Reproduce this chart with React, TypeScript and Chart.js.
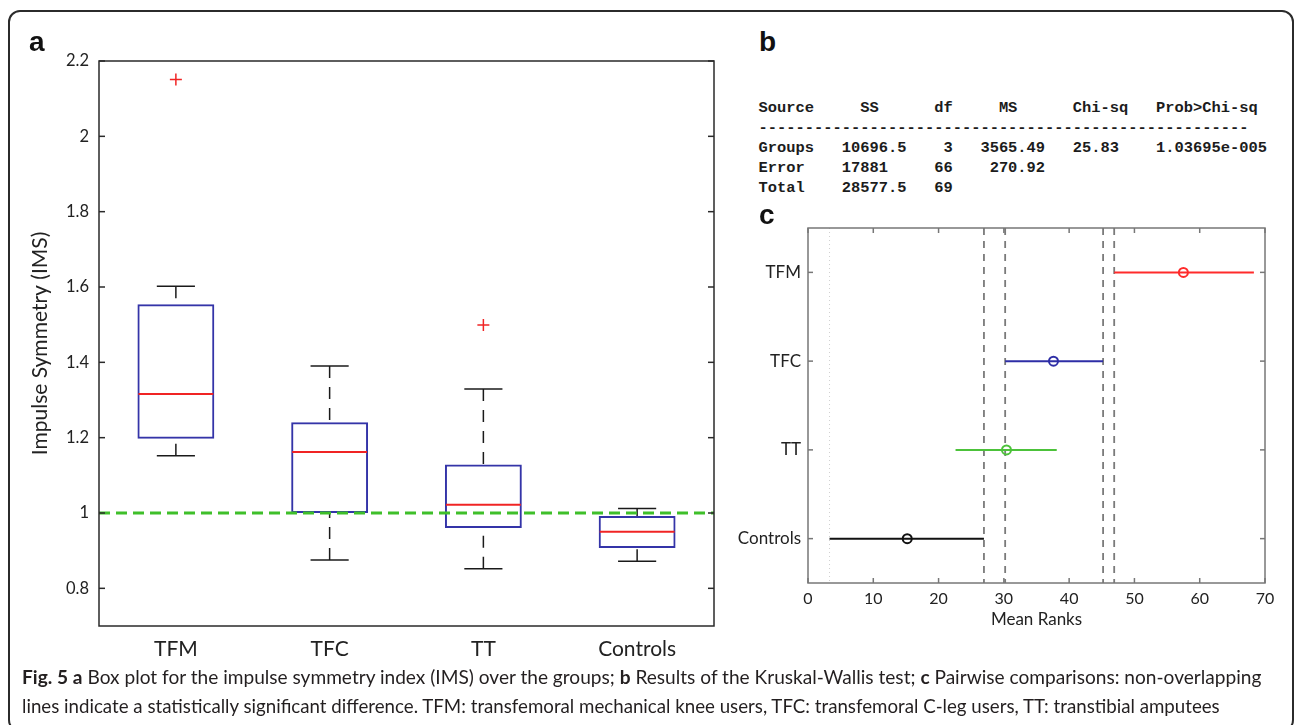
import React, { useEffect, useRef } from 'react';
import { Chart, registerables } from 'chart.js';

Chart.register(...registerables);

// ---------- Panel a: box plot of the impulse symmetry index ----------
const groups = ['TFM', 'TFC', 'TT', 'Controls'];
const lowerWhisker = [1.152, 0.875, 0.852, 0.872];
const lowerQuartile = [1.197, 1.0, 0.96, 0.907];
const medianValue = [1.316, 1.162, 1.022, 0.95];
const upperQuartile = [1.554, 1.241, 1.129, 0.992];
const upperWhisker = [1.602, 1.39, 1.329, 1.012];
const outlierGroups = ['TFM', 'TT'];
const outlierValues = [2.151, 1.499];
const symmetryLevel = 1.0;
const imsTicks = [0.8, 1.0, 1.2, 1.4, 1.6, 1.8, 2.0, 2.2];

// ---------- Panel b: Kruskal-Wallis table ----------
const tableColumns = ['Source', 'SS', 'df', 'MS', 'Chi-sq', 'Prob>Chi-sq'];
const tableSources = ['Groups', 'Error', 'Total'];
const tableSS = ['10696.5', '17881', '28577.5'];
const tableDf = ['3', '66', '69'];
const tableMS = ['3565.49', '270.92', ''];
const tableChiSq = ['25.83', '', ''];
const tableProb = ['1.03695e-005', '', ''];

// ---------- Panel c: pairwise comparisons (mean ranks) ----------
const rankGroups = ['TFM', 'TFC', 'TT', 'Controls'];
const rankMean = [57.5, 37.6, 30.4, 15.2];
const rankLower = [46.9, 30.2, 22.6, 3.3];
const rankUpper = [68.3, 45.2, 38.1, 26.95];
const rankColors = ['#ff2b2b', '#2e2ea6', '#4cc23a', '#111111'];
const dashedMarks = [26.95, 30.2, 45.2, 46.9];
const dottedMark = 3.3;
const rankTicks = [0, 10, 20, 30, 40, 50, 60, 70];

const BOX_BLUE = '#3434a8';
const RED = '#f02424';
const TEXT = '#222222';

const tableLines: string[] = [
  tableColumns[0].padEnd(11) + tableColumns[1].padEnd(8) + tableColumns[2].padEnd(7) +
    tableColumns[3].padEnd(8) + tableColumns[4].padEnd(9) + tableColumns[5],
  '-'.repeat(53),
  ...tableSources.map((s, i) =>
    (s.padEnd(9) + tableSS[i].padEnd(8) + tableDf[i].padStart(4) + tableMS[i].padStart(10) +
      '   ' + tableChiSq[i].padEnd(9) + tableProb[i]).replace(/\s+$/, '')
  ),
];

function strokeLine(ctx: CanvasRenderingContext2D, x1: number, y1: number, x2: number, y2: number) {
  ctx.beginPath();
  ctx.moveTo(x1, y1);
  ctx.lineTo(x2, y2);
  ctx.stroke();
}

const boxPlugin = {
  id: 'boxExtras',
  afterDatasetsDraw(chart: any) {
    const { ctx, chartArea, scales } = chart;
    const x = scales.x;
    const y = scales.y;
    const step = x.getPixelForValue(1) - x.getPixelForValue(0);
    ctx.save();
    groups.forEach((_, i) => {
      const cx = x.getPixelForValue(i);
      const capHalf = step * 0.124;
      const boxHalf = step * 0.25;
      ctx.strokeStyle = '#1a1a1a';
      ctx.lineWidth = 1.5;
      ctx.setLineDash([12, 9]);
      strokeLine(ctx, cx, y.getPixelForValue(upperWhisker[i]), cx, y.getPixelForValue(upperQuartile[i]));
      strokeLine(ctx, cx, y.getPixelForValue(lowerWhisker[i]), cx, y.getPixelForValue(lowerQuartile[i]));
      ctx.setLineDash([]);
      const yh = y.getPixelForValue(upperWhisker[i]);
      const yl = y.getPixelForValue(lowerWhisker[i]);
      strokeLine(ctx, cx - capHalf, yh, cx + capHalf, yh);
      strokeLine(ctx, cx - capHalf, yl, cx + capHalf, yl);
      ctx.strokeStyle = RED;
      ctx.lineWidth = 2;
      const ym = y.getPixelForValue(medianValue[i]);
      strokeLine(ctx, cx - boxHalf + 1, ym, cx + boxHalf - 1, ym);
    });
    // reference line at perfect symmetry
    const yr = y.getPixelForValue(symmetryLevel);
    ctx.strokeStyle = '#3fbf2a';
    ctx.lineWidth = 3;
    ctx.setLineDash([11, 6]);
    strokeLine(ctx, chartArea.left, yr, chartArea.right, yr);
    ctx.restore();
  },
  afterDraw(chart: any) {
    const { ctx, chartArea, scales } = chart;
    const y = scales.y;
    ctx.save();
    ctx.strokeStyle = '#2a2a2a';
    ctx.lineWidth = 1.5;
    ctx.strokeRect(chartArea.left, chartArea.top, chartArea.right - chartArea.left, chartArea.bottom - chartArea.top);
    imsTicks.forEach((v) => {
      const py = y.getPixelForValue(v);
      strokeLine(ctx, chartArea.left, py, chartArea.left + 6, py);
      strokeLine(ctx, chartArea.right - 6, py, chartArea.right, py);
    });
    ctx.restore();
  },
};

const rankPlugin = {
  id: 'rankExtras',
  beforeDatasetsDraw(chart: any) {
    const { ctx, chartArea, scales } = chart;
    const x = scales.x;
    ctx.save();
    ctx.strokeStyle = '#7a7a7a';
    ctx.lineWidth = 1.8;
    ctx.setLineDash([7, 6]);
    dashedMarks.forEach((v) => {
      const px = x.getPixelForValue(v);
      strokeLine(ctx, px, chartArea.top, px, chartArea.bottom);
    });
    ctx.strokeStyle = '#d0d0d0';
    ctx.lineWidth = 1;
    ctx.setLineDash([1, 3]);
    const pd = x.getPixelForValue(dottedMark);
    strokeLine(ctx, pd, chartArea.top, pd, chartArea.bottom);
    ctx.restore();
  },
  afterDraw(chart: any) {
    const { ctx, chartArea, scales } = chart;
    const x = scales.x;
    const y = scales.y;
    ctx.save();
    ctx.strokeStyle = '#777777';
    ctx.lineWidth = 1.5;
    ctx.strokeRect(chartArea.left, chartArea.top, chartArea.right - chartArea.left, chartArea.bottom - chartArea.top);
    rankTicks.forEach((v) => {
      const px = x.getPixelForValue(v);
      strokeLine(ctx, px, chartArea.bottom, px, chartArea.bottom - 5);
      strokeLine(ctx, px, chartArea.top, px, chartArea.top + 5);
    });
    rankGroups.forEach((_, i) => {
      const py = y.getPixelForValue(i + 1);
      strokeLine(ctx, chartArea.left, py, chartArea.left + 5, py);
      strokeLine(ctx, chartArea.right - 5, py, chartArea.right, py);
    });
    ctx.restore();
  },
};

function BoxPanel() {
  const ref = useRef<HTMLCanvasElement>(null);
  useEffect(() => {
    const chart = new Chart(ref.current as HTMLCanvasElement, {
      type: 'bar',
      data: {
        labels: groups,
        datasets: [
          {
            type: 'bar',
            data: groups.map((_, i) => [lowerQuartile[i], upperQuartile[i]]),
            backgroundColor: 'rgba(0,0,0,0)',
            borderColor: BOX_BLUE,
            borderWidth: 2,
            borderSkipped: false,
            barPercentage: 0.5,
            categoryPercentage: 1,
          } as any,
          {
            type: 'scatter',
            data: outlierGroups.map((g, i) => ({ x: g, y: outlierValues[i] })),
            pointStyle: 'cross',
            pointRadius: 6,
            borderColor: RED,
            backgroundColor: RED,
            borderWidth: 1.5,
            showLine: false,
          } as any,
        ],
      },
      options: {
        responsive: false,
        animation: false,
        events: [],
        layout: { padding: { top: 61, right: 16, left: 0, bottom: 0 } },
        plugins: { legend: { display: false }, tooltip: { enabled: false } },
        scales: {
          x: {
            type: 'category',
            offset: true,
            grid: { display: false, drawTicks: false },
            border: { display: false },
            ticks: { font: { family: 'Lato', size: 21 }, color: TEXT, padding: 11 },
            afterFit: (s: any) => { s.height = 54; },
          },
          y: {
            type: 'linear',
            min: 0.7,
            max: 2.2,
            grid: { display: false, drawTicks: false },
            border: { display: false },
            afterBuildTicks: (s: any) => { s.ticks = imsTicks.map((v) => ({ value: v })); },
            ticks: {
              font: { family: 'Lato', size: 16.5 },
              color: TEXT,
              padding: 10,
              callback: (v: any) => String(Number(Number(v).toFixed(1))),
            },
            title: {
              display: true,
              text: 'Impulse Symmetry (IMS)',
              font: { family: 'Lato', size: 21 },
              color: TEXT,
              padding: { top: 28, bottom: 0 },
            },
            afterFit: (s: any) => { s.width = 99; },
          },
        },
      } as any,
      plugins: [boxPlugin],
    });
    return () => chart.destroy();
  }, []);
  return (
    <canvas ref={ref} width={730} height={680}
      style={{ position: 'absolute', left: 0, top: 0, width: 730, height: 680 }} />
  );
}

function RankPanel() {
  const ref = useRef<HTMLCanvasElement>(null);
  useEffect(() => {
    const chart = new Chart(ref.current as HTMLCanvasElement, {
      type: 'scatter',
      data: {
        datasets: [
          ...rankGroups.map((_, i) => ({
            type: 'line',
            data: [{ x: rankLower[i], y: i + 1 }, { x: rankUpper[i], y: i + 1 }],
            borderColor: rankColors[i],
            borderWidth: 2,
            pointRadius: 0,
            showLine: true,
            fill: false,
          })),
          {
            type: 'scatter',
            data: rankGroups.map((_, i) => ({ x: rankMean[i], y: i + 1 })),
            pointStyle: 'circle',
            pointRadius: 4.5,
            pointBorderColor: rankColors,
            pointBackgroundColor: 'rgba(0,0,0,0)',
            pointBorderWidth: 2,
          },
        ] as any,
      },
      options: {
        responsive: false,
        animation: false,
        events: [],
        layout: { padding: { top: 28, right: 25, left: 0, bottom: 0 } },
        plugins: { legend: { display: false }, tooltip: { enabled: false } },
        scales: {
          x: {
            type: 'linear',
            min: 0,
            max: 70,
            grid: { display: false, drawTicks: false },
            border: { display: false },
            afterBuildTicks: (s: any) => { s.ticks = rankTicks.map((v) => ({ value: v })); },
            ticks: { font: { family: 'Lato', size: 16 }, color: TEXT, padding: 6 },
            title: {
              display: true,
              text: 'Mean Ranks',
              font: { family: 'Lato', size: 17 },
              color: TEXT,
              padding: { top: 0, bottom: 10 },
            },
            afterFit: (s: any) => { s.height = 57; },
          },
          y: {
            type: 'linear',
            min: 0.5,
            max: 4.5,
            reverse: true,
            grid: { display: false, drawTicks: false },
            border: { display: false },
            afterBuildTicks: (s: any) => { s.ticks = rankGroups.map((_, i) => ({ value: i + 1 })); },
            ticks: {
              font: { family: 'Lato', size: 17 },
              color: TEXT,
              padding: 7,
              callback: (v: any) => rankGroups[Math.round(Number(v)) - 1] ?? '',
            },
            afterFit: (s: any) => { s.width = 78; },
          },
        },
      } as any,
      plugins: [rankPlugin],
    });
    return () => chart.destroy();
  }, []);
  return (
    <canvas ref={ref} width={560} height={440}
      style={{ position: 'absolute', left: 730, top: 200, width: 560, height: 440 }} />
  );
}

const panelLetter: React.CSSProperties = {
  position: 'absolute',
  fontFamily: '"Liberation Sans", Arial, sans-serif',
  fontWeight: 'bold',
  fontSize: 28,
  lineHeight: '28px',
  color: '#111',
};

const captionLine: React.CSSProperties = {
  position: 'absolute',
  left: 22,
  fontFamily: 'Lato, sans-serif',
  lineHeight: '28px',
  whiteSpace: 'nowrap',
  color: '#231f20',
};

export default function App() {
  return (
    <div style={{ position: 'absolute', left: 0, top: 0, width: 1295, height: 725, overflow: 'hidden', background: '#fff' }}>
      <div style={{
        position: 'absolute', left: 8, top: 10, width: 1286, height: 722,
        boxSizing: 'border-box', border: '2px solid #2b2b2b', borderRadius: 12,
      }} />
      <BoxPanel />
      <RankPanel />
      <div style={{ ...panelLetter, left: 29, top: 28 }}>a</div>
      <div style={{ ...panelLetter, left: 759, top: 28 }}>b</div>
      <div style={{ ...panelLetter, left: 759, top: 201 }}>c</div>
      <div style={{
        position: 'absolute', left: 758.5, top: 98, whiteSpace: 'pre',
        fontFamily: '"Liberation Mono", "Courier New", monospace', fontWeight: 'bold',
        fontSize: 15.42, lineHeight: '20px', color: '#1c1c1c',
      }}>
        {tableLines.join('\n')}
      </div>
      <div style={{ ...captionLine, top: 663, fontSize: 19.1 }}>
        <b>Fig. 5</b> <b>a</b> Box plot for the impulse symmetry index (IMS) over the groups; <b>b</b> Results of the Kruskal-Wallis test; <b>c</b> Pairwise comparisons: non-overlapping
      </div>
      <div style={{ ...captionLine, top: 692, fontSize: 18.7 }}>
        lines indicate a statistically significant difference. TFM: transfemoral mechanical knee users, TFC: transfemoral C-leg users, TT: transtibial amputees
      </div>
    </div>
  );
}
